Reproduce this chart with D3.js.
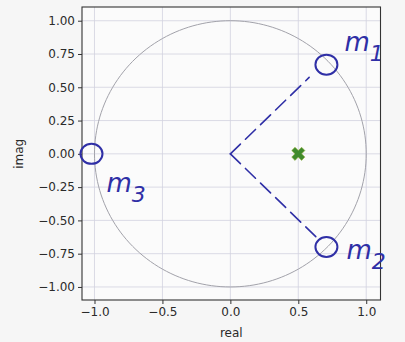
<!DOCTYPE html>
<html><head><meta charset="utf-8">
<script src="https://cdn.jsdelivr.net/npm/d3@7"></script>
<style>
html,body{margin:0;padding:0;background:#f6f6f6;}
svg{display:block;}
</style></head>
<body>
<svg id="c" width="405" height="342"></svg>
<script>
// ---- data ----
const xTicks = [-1.0, -0.5, 0.0, 0.5, 1.0];
const yTicks = [1.00, 0.75, 0.50, 0.25, 0.00, -0.25, -0.50, -0.75, -1.00];
const zeroReal = [0.707, 0.707, -1.0];
const zeroImag = [0.70, -0.70, 0.0];
const zeroLabels = ["1", "2", "3"];
const poleReal = [0.5];
const poleImag = [0.0];
const xLabel = "real";
const yLabel = "imag";

// ---- layout ----
const svg = d3.select("#c");
const L = 82, R = 380.5, T = 7, B = 300;
const x = d3.scaleLinear().domain([-1.092, 1.105]).range([L, R]);
const y = d3.scaleLinear().domain([-1.098, 1.103]).range([B, T]);
const font = "'DejaVu Sans', sans-serif";
const ink = "#2f2fa6";

svg.append("rect").attr("x", L).attr("y", T).attr("width", R - L).attr("height", B - T).attr("fill", "#fbfbfb");

// grid
const grid = svg.append("g").attr("stroke", "#d2d2e0").attr("stroke-width", 0.8);
xTicks.forEach(t => grid.append("line").attr("x1", x(t)).attr("x2", x(t)).attr("y1", T).attr("y2", B));
yTicks.forEach(t => grid.append("line").attr("y1", y(t)).attr("y2", y(t)).attr("x1", L).attr("x2", R));

// unit circle
const angles = d3.range(0, 361, 2).map(a => a * Math.PI / 180);
svg.append("path")
  .attr("d", d3.line().x(a => x(Math.cos(a))).y(a => y(Math.sin(a)))(angles))
  .attr("fill", "none").attr("stroke", "#a2a2aa").attr("stroke-width", 1);

// axes
const xAxis = d3.axisBottom(x).tickValues(xTicks).tickFormat(d3.format(".1f")).tickSize(4).tickPadding(3);
const yAxis = d3.axisLeft(y).tickValues(yTicks).tickFormat(d3.format(".2f")).tickSize(4).tickPadding(3);
const gx = svg.append("g").attr("transform", `translate(0,${B})`).call(xAxis);
const gy = svg.append("g").attr("transform", `translate(${L},0)`).call(yAxis);
[gx, gy].forEach(g => {
  g.select(".domain").remove();
  g.selectAll("line").attr("stroke", "#333");
  g.selectAll("text").attr("font-family", font).attr("font-size", 12).attr("fill", "#2a2a2a")
    .text(function(){ return this.textContent.replace("-", "\u2212"); });
});
svg.append("rect").attr("x", L).attr("y", T).attr("width", R - L).attr("height", B - T)
  .attr("fill", "none").attr("stroke", "#333").attr("stroke-width", 1.1);

svg.append("text").attr("x", (L + R) / 2).attr("y", 337).attr("text-anchor", "middle")
  .attr("font-family", font).attr("font-size", 12).attr("fill", "#2a2a2a").text(xLabel);
svg.append("text").attr("transform", `translate(23,${y(0)}) rotate(-90)`).attr("text-anchor", "middle")
  .attr("font-family", font).attr("font-size", 12).attr("fill", "#2a2a2a").text(yLabel);

// pole marker (filled X)
const xs = 7;
poleReal.forEach((pr, i) => {
  const cx = x(pr), cy = y(poleImag[i]);
  svg.append("path")
    .attr("d", d3.symbol().type(d3.symbolCross).size(xs * xs * 2.2)())
    .attr("transform", `translate(${cx},${cy}) rotate(45)`)
    .attr("fill", "#3f8a2c").attr("stroke", "#8fae3a").attr("stroke-width", 0.6);
});

// hand-drawn annotations: dashed lines from origin toward the first two zeros
const ann = svg.append("g").attr("stroke", ink).attr("fill", "none").attr("stroke-width", 1.6)
  .attr("stroke-linecap", "round");
[0, 1].forEach(i => {
  const f = i === 0 ? 0.82 : 0.93;
  ann.append("line")
    .attr("x1", x(0)).attr("y1", y(0))
    .attr("x2", x(zeroReal[i] * f)).attr("y2", y(zeroImag[i] * f))
    .attr("stroke-dasharray", "14,7");
});
// circles around zeros
zeroReal.forEach((zr, i) => {
  ann.append("ellipse").attr("cx", x(zr) + (i === 2 ? -3 : 0)).attr("cy", y(zeroImag[i]) + (i === 0 ? 4 : 0))
    .attr("rx", 11).attr("ry", 10).attr("stroke-width", 2);
});
// labels m1, m2, m3
const labPos = [[x(zeroReal[0]) + 18, y(zeroImag[0]) - 10], [x(zeroReal[1]) + 20, y(zeroImag[1]) + 12], [x(zeroReal[2]) + 12, y(zeroImag[2]) + 38]];
zeroLabels.forEach((lab, i) => {
  const t = svg.append("text").attr("x", labPos[i][0]).attr("y", labPos[i][1])
    .attr("font-family", "'DejaVu Sans', sans-serif").attr("font-style", "italic")
    .attr("font-size", 26).attr("fill", ink);
  t.append("tspan").text("m");
  t.append("tspan").attr("dy", 10).attr("font-size", 22).text(lab);
});
</script>
</body></html>
